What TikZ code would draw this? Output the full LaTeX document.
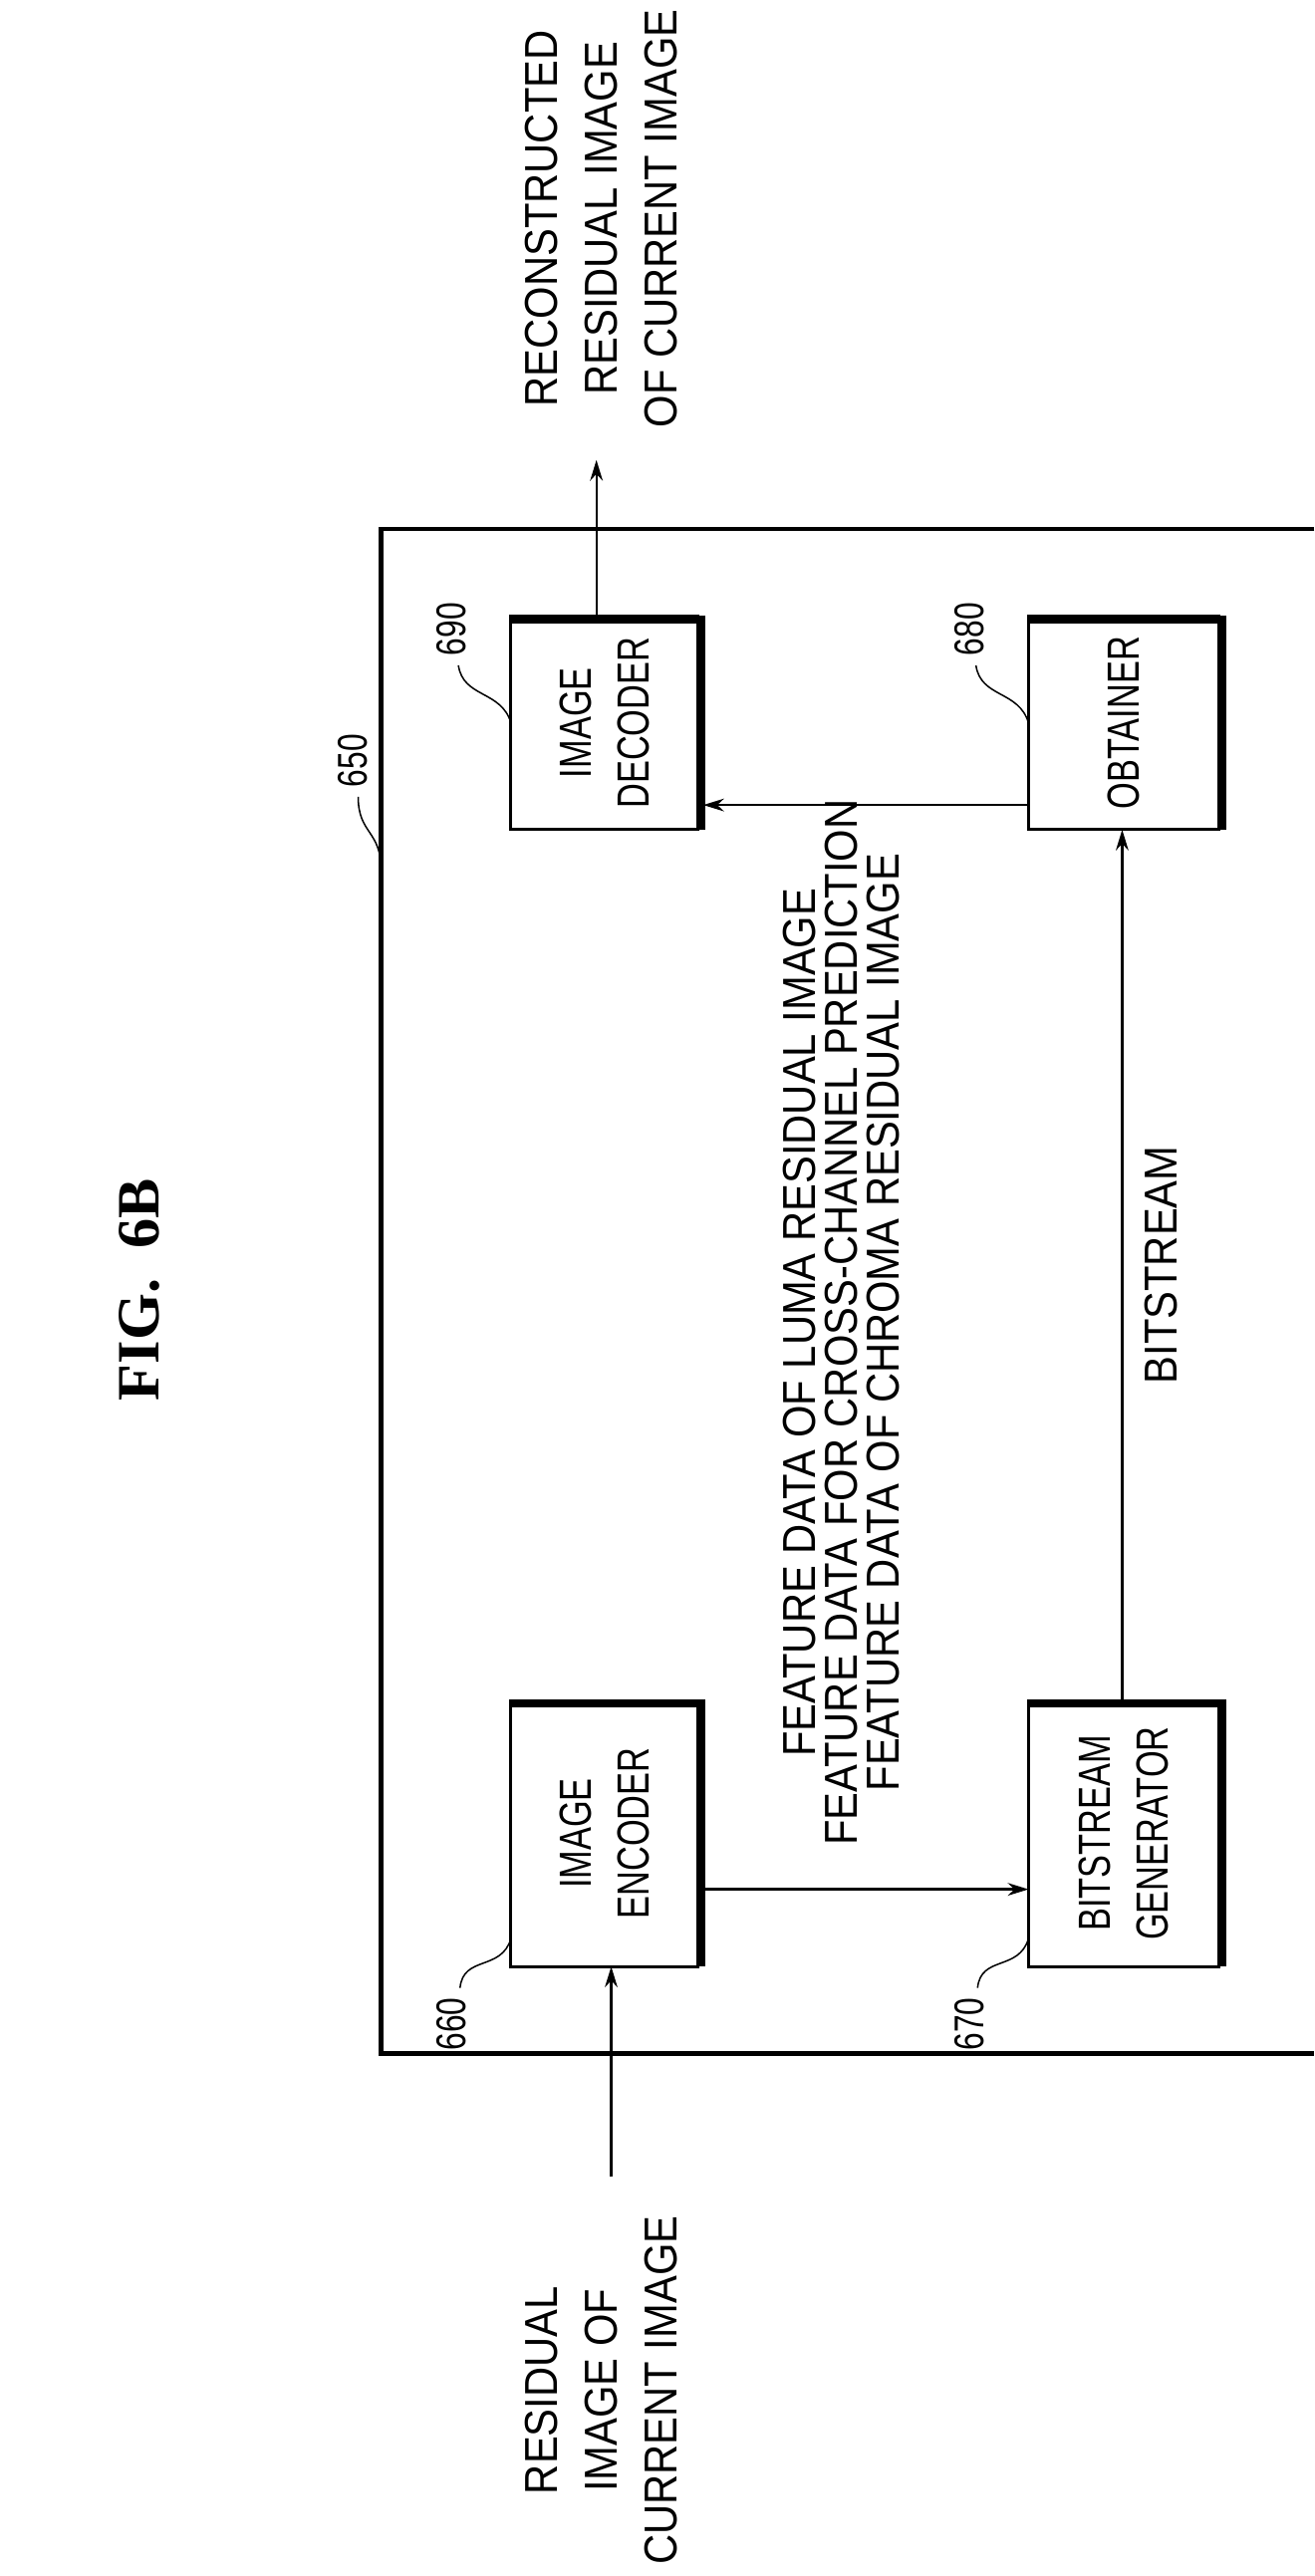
\documentclass[tikz,border=0pt]{standalone}
\usepackage{fontspec}
\setmainfont{Liberation Sans}[FakeStretch=0.9]
\newfontfamily\narrowfont{Liberation Sans}[FakeStretch=0.76]
\newfontfamily\titlefont{Liberation Serif}
\usetikzlibrary{arrows.meta}
\begin{document}
\begin{tikzpicture}[x=0.05cm,y=-0.05cm,
  lbl/.style={rotate=90,font=\fontsize{40}{52}\selectfont,align=center,inner sep=0},
  blab/.style={rotate=90,font=\narrowfont\fontsize{39}{50}\selectfont,align=center,inner sep=0},
  num/.style={rotate=90,font=\narrowfont\fontsize{36}{36}\selectfont,inner sep=1pt},
  blk/.style={draw,line width=2.5pt,fill=white},
  arr/.style={line width=2pt,-{Stealth[length=18pt,width=11pt]}},
  lead/.style={line width=1.3pt}]
\useasboundingbox (0,0) rectangle (800,1568);
\node[rotate=90,font=\titlefont\bfseries\fontsize{52}{52}\selectfont] (title) at (85,785) {FIG.\ \ 6B};
% outer frame
\draw[line width=4pt] (800,322) -- (232,322) -- (232,1250) -- (800,1250);
\coordinate (frameL) at (232,530);
% blocks
\foreach \n/\xa/\ya/\xb/\yb in {dec/311/375/425/505, enc/311/1035/425/1197, obt/626/375/742/505, bsg/626/1035/742/1197}{
  \draw[blk] (\xa,\ya) rectangle (\xb,\yb);
  \draw[line width=7pt] (\xa,\ya+2) -- (\xb+2,\ya+2) -- (\xb+2,\yb);
  \coordinate (\n) at ({(\xa+\xb)/2},{(\ya+\yb)/2});
}
\node[blab] (decT) at (368,440) {IMAGE\\DECODER};
\node[blab] (encT) at (368,1116) {IMAGE\\ENCODER};
\node[blab] (obtT) at (684,440) {OBTAINER};
\node[blab] (bsgT) at (684,1116) {BITSTREAM\\GENERATOR};
% named anchor points
\coordinate (decTop) at (363,375);
\coordinate (outEnd) at (363,280);
\coordinate (encBot) at (372,1197);
\coordinate (inStart) at (372,1325);
\coordinate (obtL) at (626,490);
\coordinate (decR) at (428,490);
\coordinate (encR) at (425,1150);
\coordinate (bsgL) at (626,1150);
\coordinate (bsgTop) at (683,1035);
\coordinate (obtBot) at (683,505);
\draw[arr] (decTop) -- (outEnd);
\draw[arr] (inStart) -- (encBot);
\draw[arr] (obtL) -- (decR);
\draw[arr] (encR) -- (bsgL);
\draw[arr] (bsgTop) -- (obtBot);
% texts
\node[lbl] (out) at (366,133) {RECONSTRUCTED\\RESIDUAL IMAGE\\OF CURRENT IMAGE};
\node[lbl] (in) at (366,1455) {RESIDUAL\\IMAGE OF\\CURRENT IMAGE};
\node[lbl,font=\fontsize{40}{36}\selectfont] (feat) at (512,805) {FEATURE DATA OF LUMA RESIDUAL IMAGE\\FEATURE DATA FOR CROSS-CHANNEL PREDICTION\\FEATURE DATA OF CHROMA RESIDUAL IMAGE};
\node[lbl] (bs) at (707,770) {BITSTREAM};
% reference numerals
\node[num] (n650) at (215,463) {650};
\draw[lead] (218,485) .. controls (218,508) and (232,505) .. (frameL);
\node[num] (n690) at (275,383) {690};
\draw[lead] (279,405) .. controls (282,425) and (305,420) .. (311,440);
\node[num] (n680) at (590,383) {680};
\draw[lead] (594,405) .. controls (597,425) and (620,420) .. (626,440);
\node[num] (n660) at (275,1232) {660};
\draw[lead] (280,1210) .. controls (282,1190) and (305,1200) .. (311,1180);
\node[num] (n670) at (590,1232) {670};
\draw[lead] (595,1210) .. controls (597,1190) and (620,1200) .. (626,1180);
\end{tikzpicture}
\end{document}
